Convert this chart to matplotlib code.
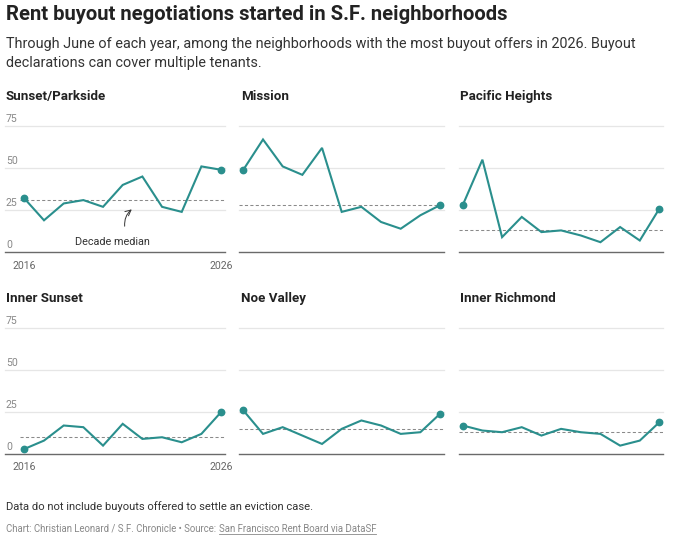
import matplotlib
matplotlib.use("Agg")
import matplotlib.pyplot as plt
import matplotlib.transforms as mtrans
import numpy as np

plt.rcParams['font.family'] = ['Roboto', 'DejaVu Sans']

years = list(range(2016, 2027))
neighborhoods = ["Sunset/Parkside", "Mission", "Pacific Heights",
                 "Inner Sunset", "Noe Valley", "Inner Richmond"]
sunset_parkside = [32, 19, 29, 31, 27, 40, 45, 27, 24, 51, 49]
mission = [49, 67, 51, 46, 62, 24, 27, 18, 14, 22, 28]
pacific_heights = [28, 55, 9, 21, 12, 13, 10, 6, 15, 7, 26]
inner_sunset = [3, 8, 17, 16, 5, 18, 9, 10, 7, 12, 25]
noe_valley = [26, 12, 16, 11, 6, 15, 20, 17, 12, 13, 24]
inner_richmond = [17, 14, 13, 16, 11, 15, 13, 12, 5, 8, 19]
series = [sunset_parkside, mission, pacific_heights,
          inner_sunset, noe_valley, inner_richmond]
y_ticks = [0, 25, 50, 75]
x_tick_labels = ["2016", "2026"]

TEAL = "#2a8f8d"
W, H = 694, 545
fig = plt.figure(figsize=(W / 100, H / 100), dpi=100)
fig.patch.set_facecolor("white")

def px(x, y):
    return x / W, 1 - y / H

# Titles
fig.text(*px(6, 14), "Rent buyout negotiations started in S.F. neighborhoods",
         fontsize=14.6, fontweight="bold", color="#222222", va="center", ha="left")
fig.text(*px(6, 44), "Through June of each year, among the neighborhoods with the most buyout offers in 2026. Buyout",
         fontsize=10.35, color="#333333", va="center", ha="left")
fig.text(*px(6, 63), "declarations can cover multiple tenants.",
         fontsize=10.35, color="#333333", va="center", ha="left")

col_left = [20.4, 239.4, 458.8]
row_top = [126.0, 328.3]
row_bot = [252.3, 454.0]
ax_w = 204.6
title_y = [96.5, 298.5]

for i, (name, vals) in enumerate(zip(neighborhoods, series)):
    r, c = divmod(i, 3)
    l = col_left[c]
    ax = fig.add_axes([l / W, 1 - row_bot[r] / H, ax_w / W, (row_bot[r] - row_top[r]) / H])
    ax.set_xlim(2015.8, 2026.2)
    ax.set_ylim(0, 75)
    ax.axis("off")
    ext = -(l - 5) / ax_w if c == 0 else 0
    for t in y_ticks[1:]:
        ax.axhline(t, xmin=ext, xmax=1.0, color="#e6e6e6", lw=0.9, zorder=1, clip_on=False)
    ax.axhline(0, xmin=ext, xmax=1.0, color="#6a6a6a", lw=1.0, zorder=2, clip_on=False)
    med = float(np.median(vals))
    ax.axhline(med, color="#8a8a8a", lw=0.75, ls=(0, (3, 2.2)), zorder=2)
    ax.plot(years, vals, color=TEAL, lw=1.5, zorder=3, clip_on=False, solid_joinstyle="miter")
    ax.plot([years[0], years[-1]], [vals[0], vals[-1]], "o", color=TEAL, ms=4.6, zorder=4, clip_on=False)
    fig.text(*px(l - 14.4 if c == 0 else l + 1.6, title_y[r]), name, fontsize=9.6,
             fontweight="bold", color="#222222", va="center", ha="left")
    if c == 0:
        tr = mtrans.blended_transform_factory(ax.transAxes, ax.transData)
        for t in y_ticks:
            ax.annotate(str(t), xy=(-(l - 6) / ax_w, t), xycoords=tr, xytext=(0, 1.6),
                        textcoords="offset points", ha="left", va="bottom",
                        fontsize=7.6, color="#888888", annotation_clip=False)
        for lab, xv in zip(x_tick_labels, [years[0], years[-1]]):
            ax.annotate(lab, xy=(xv, 0), xytext=(0, -9.7), textcoords="offset points",
                        ha="center", va="center", fontsize=7.6, color="#666666",
                        annotation_clip=False)
    if i == 0:
        ax.text(2020.48, 6.3, "Decade median", ha="center", va="center",
                fontsize=7.8, color="#333333")
        ax.annotate("", xy=(2021.46, med - 5.5), xytext=(2021.1, 15.5),
                    arrowprops=dict(arrowstyle="->", color="#333333", lw=0.7,
                                    connectionstyle="arc3,rad=-0.25",
                                    shrinkA=0, shrinkB=0))

fig.text(*px(6, 507), "Data do not include buyouts offered to settle an eviction case.",
         fontsize=8.07, color="#333333", va="center", ha="left")
t1 = fig.text(*px(6, 529), "Chart: Christian Leonard / S.F. Chronicle \u2022 Source: ",
              fontsize=6.98, color="#888888", va="center", ha="left")
fig.canvas.draw()
bb = t1.get_window_extent()
t2 = fig.text(bb.x1 / W, 1 - 529 / H, "San Francisco Rent Board via DataSF",
              fontsize=6.98, color="#888888", va="center", ha="left")
fig.canvas.draw()
bb2 = t2.get_window_extent()
fig.add_artist(plt.Line2D([bb2.x0 / W, bb2.x1 / W], [(bb2.y0 + 0.5) / H, (bb2.y0 + 0.5) / H],
                          color="#888888", lw=0.6))

fig.savefig("out.png", dpi=100, facecolor="white")
